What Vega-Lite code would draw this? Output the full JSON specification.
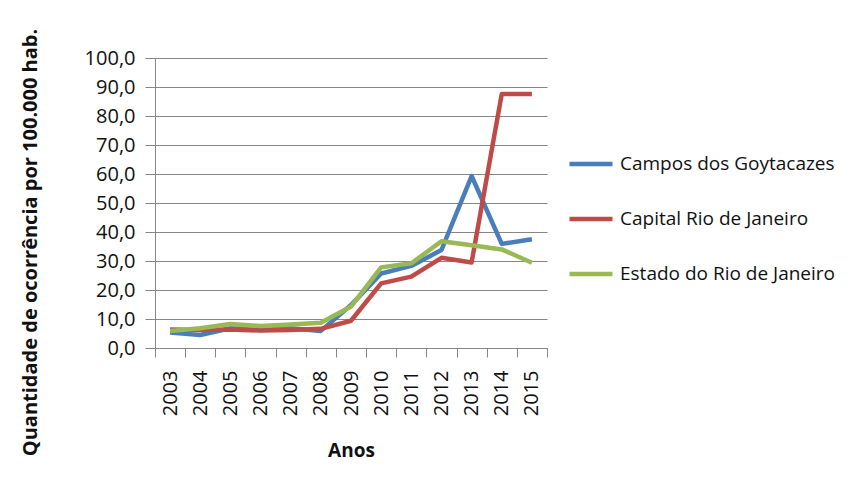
{
  "$schema": "https://vega.github.io/schema/vega-lite/v6.json",
  "width": 392,
  "height": 290,
  "autosize": {"type": "none"},
  "padding": {"left": 155, "top": 58, "right": 306, "bottom": 141},
  "background": "white",
  "config": {
    "font": "Open Sans",
    "view": {"stroke": null},
    "axis": {"labelColor": "#111111", "titleColor": "#111111", "domainColor": "#868686", "tickColor": "#868686", "gridColor": "#868686"}
  },
  "data": {
    "values": [
      {"ano": "2003", "serie": "Campos dos Goytacazes", "valor": 5.3},
      {"ano": "2004", "serie": "Campos dos Goytacazes", "valor": 4.5},
      {"ano": "2005", "serie": "Campos dos Goytacazes", "valor": 6.8},
      {"ano": "2006", "serie": "Campos dos Goytacazes", "valor": 6.2},
      {"ano": "2007", "serie": "Campos dos Goytacazes", "valor": 6.8},
      {"ano": "2008", "serie": "Campos dos Goytacazes", "valor": 5.9},
      {"ano": "2009", "serie": "Campos dos Goytacazes", "valor": 14.8},
      {"ano": "2010", "serie": "Campos dos Goytacazes", "valor": 25.7},
      {"ano": "2011", "serie": "Campos dos Goytacazes", "valor": 28.3},
      {"ano": "2012", "serie": "Campos dos Goytacazes", "valor": 33.8},
      {"ano": "2013", "serie": "Campos dos Goytacazes", "valor": 59.3},
      {"ano": "2014", "serie": "Campos dos Goytacazes", "valor": 35.9},
      {"ano": "2015", "serie": "Campos dos Goytacazes", "valor": 37.5},
      {"ano": "2003", "serie": "Capital Rio de Janeiro", "valor": 6.4},
      {"ano": "2004", "serie": "Capital Rio de Janeiro", "valor": 6.2},
      {"ano": "2005", "serie": "Capital Rio de Janeiro", "valor": 6.4},
      {"ano": "2006", "serie": "Capital Rio de Janeiro", "valor": 6.0},
      {"ano": "2007", "serie": "Capital Rio de Janeiro", "valor": 6.2},
      {"ano": "2008", "serie": "Capital Rio de Janeiro", "valor": 6.6},
      {"ano": "2009", "serie": "Capital Rio de Janeiro", "valor": 9.4},
      {"ano": "2010", "serie": "Capital Rio de Janeiro", "valor": 22.3},
      {"ano": "2011", "serie": "Capital Rio de Janeiro", "valor": 24.6},
      {"ano": "2012", "serie": "Capital Rio de Janeiro", "valor": 31.1},
      {"ano": "2013", "serie": "Capital Rio de Janeiro", "valor": 29.5},
      {"ano": "2014", "serie": "Capital Rio de Janeiro", "valor": 87.6},
      {"ano": "2015", "serie": "Capital Rio de Janeiro", "valor": 87.6},
      {"ano": "2003", "serie": "Estado do Rio de Janeiro", "valor": 5.9},
      {"ano": "2004", "serie": "Estado do Rio de Janeiro", "valor": 6.8},
      {"ano": "2005", "serie": "Estado do Rio de Janeiro", "valor": 8.3},
      {"ano": "2006", "serie": "Estado do Rio de Janeiro", "valor": 7.6},
      {"ano": "2007", "serie": "Estado do Rio de Janeiro", "valor": 8.1},
      {"ano": "2008", "serie": "Estado do Rio de Janeiro", "valor": 8.7},
      {"ano": "2009", "serie": "Estado do Rio de Janeiro", "valor": 14.3},
      {"ano": "2010", "serie": "Estado do Rio de Janeiro", "valor": 27.8},
      {"ano": "2011", "serie": "Estado do Rio de Janeiro", "valor": 29.2},
      {"ano": "2012", "serie": "Estado do Rio de Janeiro", "valor": 36.8},
      {"ano": "2013", "serie": "Estado do Rio de Janeiro", "valor": 35.4},
      {"ano": "2014", "serie": "Estado do Rio de Janeiro", "valor": 34.0},
      {"ano": "2015", "serie": "Estado do Rio de Janeiro", "valor": 29.4}
    ]
  },
  "mark": {"type": "line", "strokeWidth": 4.5, "strokeJoin": "round"},
  "encoding": {
    "x": {
      "field": "ano",
      "type": "ordinal",
      "bandPosition": 0.5,
      "scale": {"type": "band", "paddingInner": 0, "paddingOuter": 0},
      "axis": {
        "title": "Anos",
        "titleFontSize": 19,
        "titleFontWeight": "bold",
        "titlePadding": 26,
        "labelAngle": -90,
        "labelFontSize": 20,
        "labelPadding": 13,
        "tickSize": 9,
        "tickBand": "extent",
        "grid": false,
        "domainColor": "#868686"
      }
    },
    "y": {
      "field": "valor",
      "type": "quantitative",
      "scale": {"domain": [0, 100], "nice": false},
      "axis": {
        "values": [0, 10, 20, 30, 40, 50, 60, 70, 80, 90, 100],
        "labelExpr": "replace(format(datum.value, '.1f'), '.', ',')",
        "labelFontSize": 20,
        "labelPadding": 10,
        "tickSize": 10,
        "grid": true,
        "gridColor": "#868686",
        "title": "Quantidade de ocorrência por 100.000 hab.",
        "titleFontSize": 20,
        "titleFontWeight": "bold",
        "titleX": -125,
        "titleY": 184,
        "titleAlign": "center",
        "titleBaseline": "middle",
        "titleAngle": -90
      }
    },
    "color": {
      "field": "serie",
      "type": "nominal",
      "scale": {
        "domain": ["Campos dos Goytacazes", "Capital Rio de Janeiro", "Estado do Rio de Janeiro"],
        "range": ["#4A7EBB", "#BE4B48", "#98B954"]
      },
      "legend": {
        "title": null,
        "orient": "none",
        "legendX": 412,
        "legendY": 82,
        "symbolType": "stroke",
        "symbolSize": 1850,
        "symbolStrokeWidth": 4.5,
        "labelFontSize": 19,
        "labelColor": "#111111",
        "labelLimit": 400,
        "labelOffset": 5,
        "rowPadding": 21,
        "padding": 0
      }
    }
  }
}
